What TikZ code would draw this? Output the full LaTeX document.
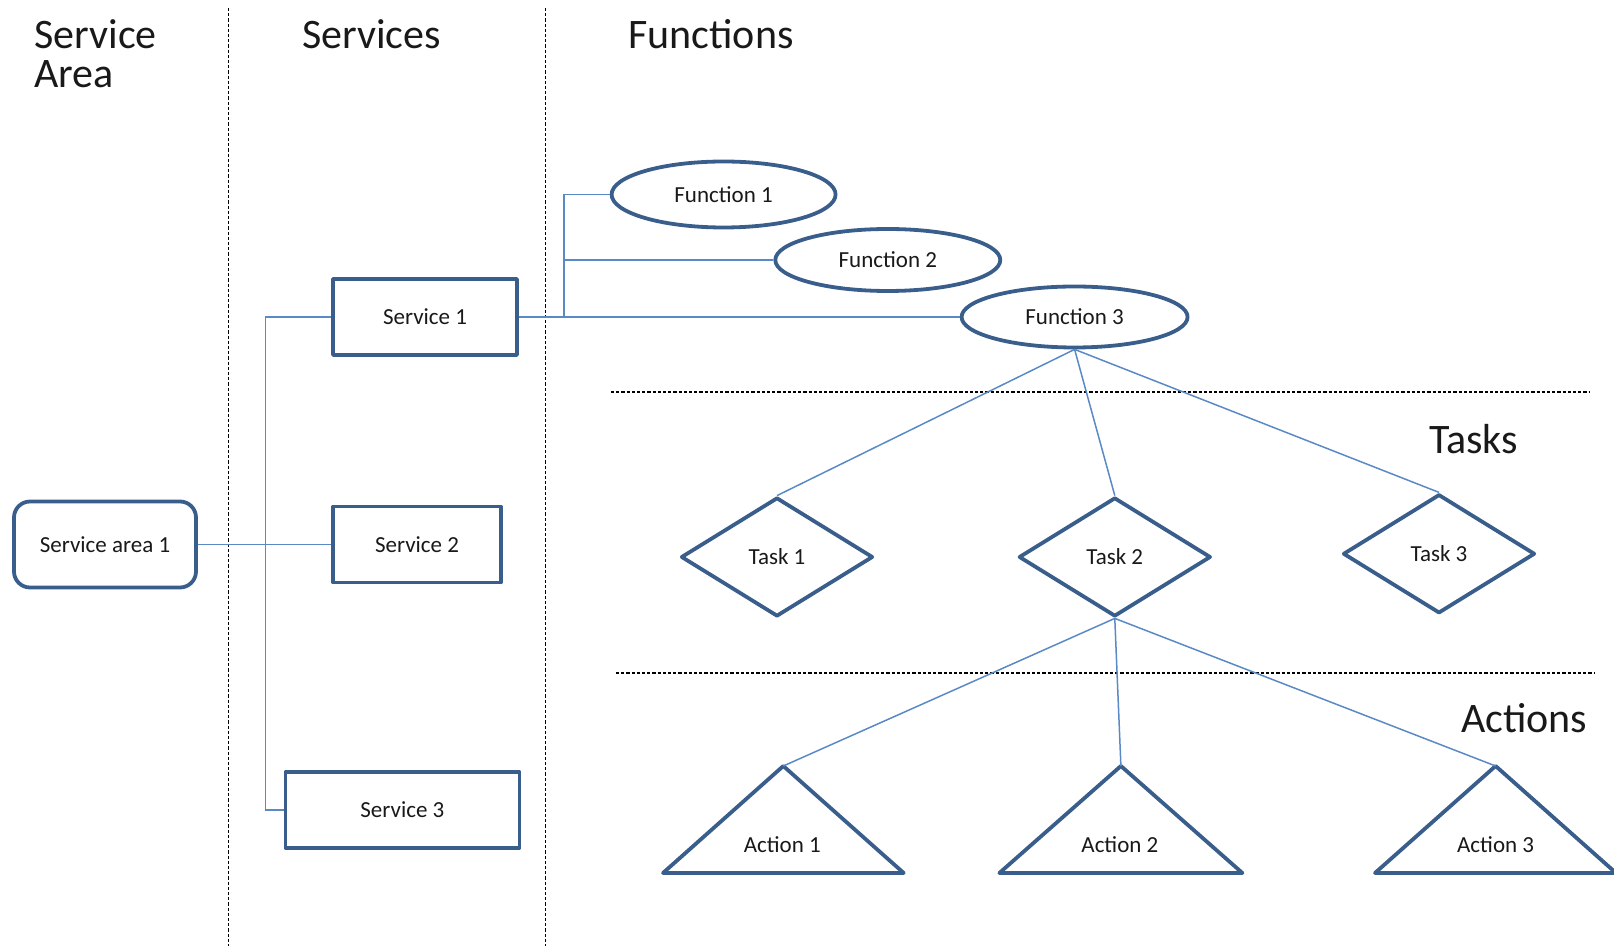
\documentclass[tikz,border=0pt]{standalone}
\usepackage{fontspec}
\setmainfont{Carlito}
\usetikzlibrary{shapes.geometric}
\definecolor{shapeblue}{HTML}{3A5E8C}
\definecolor{connblue}{HTML}{5A8AC6}
\tikzset{
  shapeline/.style={draw=shapeblue, line width=1.9pt, line join=round},
  lbl/.style={font=\fontsize{11.5}{13}\selectfont, text=black!90},
  hdr/.style={font=\fontsize{21}{25}\selectfont, text=black!90, anchor=west, inner sep=0pt},
  rectbox/.style={shapeline, rectangle, lbl, minimum height=38pt, inner sep=0pt},
  ellbox/.style={shapeline, ellipse, lbl, inner sep=0pt},
  diabox/.style={shapeline, diamond, lbl, inner sep=0pt, minimum width=96pt, minimum height=59.5pt},
  conn/.style={draw=connblue, line width=0.75pt},
  sepline/.style={draw=black, line width=0.55pt, dash pattern=on 1.6pt off 1pt}
}
\begin{document}
\begin{tikzpicture}[x=0.5pt, y=-0.5pt]
\useasboundingbox (0,0) rectangle (1614,946);
% separators
\coordinate (v1a) at (228.5,8); \coordinate (v1b) at (228.5,946);
\coordinate (v2a) at (545.5,8); \coordinate (v2b) at (545.5,946);
\coordinate (h1a) at (611,392); \coordinate (h1b) at (1590,392);
\coordinate (h2a) at (616,673); \coordinate (h2b) at (1595,673);
\draw[sepline] (v1a) -- (v1b);
\draw[sepline] (v2a) -- (v2b);
\draw[sepline] (h1a) -- (h1b);
\draw[sepline] (h2a) -- (h2b);
% headers
\node[hdr] (hsa1) at (34,34) {Service};
\node[hdr] (hsa2) at (34,74) {Area};
\node[hdr] (hsv) at (301.6,34) {Services};
\node[hdr] (hfn) at (628,34) {Functions};
\node[hdr] (htk) at (1428.7,439.5) {Tasks};
\node[hdr] (hac) at (1460.6,718.5) {Actions};
% service area
\node[rectbox, rounded corners=8pt, minimum width=91pt, minimum height=43pt] (sa) at (105,544.5) {Service area 1};
% services
\node[rectbox, minimum width=92pt] (s1) at (425,317) {Service 1};
\node[rectbox, minimum width=84pt] (s2) at (417,544.5) {Service 2};
\node[rectbox, minimum width=117pt] (s3) at (402.4,810) {Service 3};
% functions
\node[ellbox, minimum width=112pt, minimum height=33pt] (f1) at (723.6,194.5) {Function 1};
\node[ellbox, minimum width=112.5pt, minimum height=31pt] (f2) at (887.8,260) {Function 2};
\node[ellbox, minimum width=113pt, minimum height=30.5pt] (f3) at (1074.6,317) {Function 3};
% tasks
\node[diabox] (t1) at (777,557) {Task 1};
\node[diabox] (t2) at (1114.8,557) {Task 2};
\node[diabox] (t3) at (1439,553.8) {Task 3};
% actions
\coordinate (a1top) at (783.3,766);
\coordinate (a2top) at (1120.9,766);
\coordinate (a3top) at (1495.6,766);
\draw[shapeline] (a1top) -- (663,873) -- (903.7,873) -- cycle;
\draw[shapeline] (a2top) -- (999.4,873) -- (1242.4,873) -- cycle;
\draw[shapeline] (a3top) -- (1375,873) -- (1616,873) -- cycle;
\node[lbl] (a1) at (782.3,845) {Action 1};
\node[lbl] (a2) at (1119.9,845) {Action 2};
\node[lbl] (a3) at (1495.6,845) {Action 3};
% connectors: service area to services
\coordinate (trunk1) at (265.6,317);
\coordinate (trunk3) at (265.6,810);
\draw[conn] (sa.east) -- (s2.west);
\draw[conn] (s1.west) -- (trunk1) -- (trunk3) -- (s3.west);
% service 1 to functions
\coordinate (fb) at (564,317);
\draw[conn] (s1.east) -- (f3.west);
\draw[conn] (fb) |- (f1.west);
\draw[conn] (fb) |- (f2.west);
% function 3 to tasks
\draw[conn] (f3.south) -- (t1.north);
\draw[conn] (f3.south) -- (t2.north);
\draw[conn] (f3.south) -- (t3.north);
% task 2 to actions
\draw[conn] (t2.south) -- (a1top);
\draw[conn] (t2.south) -- (a2top);
\draw[conn] (t2.south) -- (a3top);
\end{tikzpicture}
\end{document}
